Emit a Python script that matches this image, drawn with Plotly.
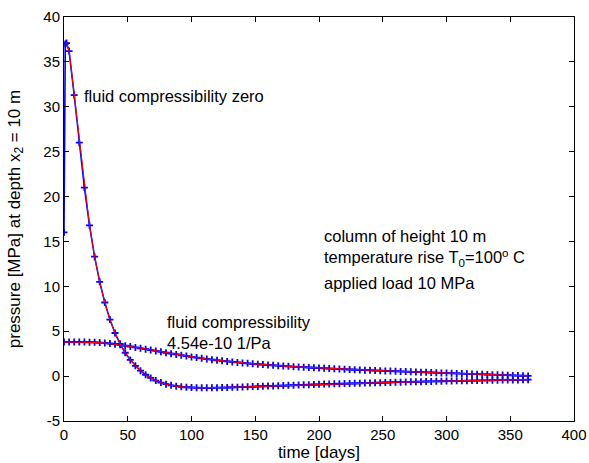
import plotly.graph_objects as go

# time [days] for both series
t_zero = [0, 1, 2, 4, 8, 12, 16, 20, 24, 28, 32, 36, 40, 44, 48, 52, 56, 60, 64, 68, 72, 76, 80,
          84, 88, 92, 96, 100, 104, 108, 112, 116, 120, 124, 128, 132, 136, 140, 144, 148, 152,
          156, 160, 164, 168, 172, 176, 180, 184, 188, 192, 196, 200, 204, 208, 212, 216, 220,
          224, 228, 232, 236, 240, 244, 248, 252, 256, 260, 264, 268, 272, 276, 280, 284, 288,
          292, 296, 300, 304, 308, 312, 316, 320, 324, 328, 332, 336, 340, 344, 348, 352, 356,
          360, 364]
p_zero = [16.0, 37.0, 37.1, 36.2, 31.3, 26.0, 21.0, 16.8, 13.3, 10.5, 8.2, 6.3, 4.8, 3.6, 2.6,
          1.8, 1.15, 0.6, 0.15, -0.2, -0.5, -0.72, -0.9, -1.03, -1.12, -1.19, -1.24, -1.27,
          -1.29, -1.30, -1.30, -1.30, -1.29, -1.28, -1.27, -1.25, -1.23, -1.21, -1.19, -1.17,
          -1.15, -1.13, -1.11, -1.09, -1.07, -1.05, -1.03, -1.01, -0.99, -0.97, -0.95, -0.93,
          -0.91, -0.89, -0.88, -0.86, -0.85, -0.83, -0.82, -0.80, -0.79, -0.77, -0.76, -0.74,
          -0.73, -0.71, -0.70, -0.68, -0.67, -0.66, -0.64, -0.63, -0.62, -0.60, -0.59, -0.58,
          -0.57, -0.55, -0.54, -0.53, -0.52, -0.51, -0.50, -0.49, -0.48, -0.47, -0.46, -0.45,
          -0.44, -0.43, -0.42, -0.42, -0.41, -0.40]

t_comp = [0, 4, 8, 12, 16, 20, 24, 28, 32, 36, 40, 44, 48, 52, 56, 60, 64, 68, 72, 76, 80, 84,
          88, 92, 96, 100, 104, 108, 112, 116, 120, 124, 128, 132, 136, 140, 144, 148, 152, 156,
          160, 164, 168, 172, 176, 180, 184, 188, 192, 196, 200, 204, 208, 212, 216, 220, 224,
          228, 232, 236, 240, 244, 248, 252, 256, 260, 264, 268, 272, 276, 280, 284, 288, 292,
          296, 300, 304, 308, 312, 316, 320, 324, 328, 332, 336, 340, 344, 348, 352, 356, 360,
          364]
p_comp = [3.8, 3.8, 3.8, 3.8, 3.79, 3.78, 3.76, 3.73, 3.69, 3.63, 3.56, 3.48, 3.39, 3.30, 3.20,
          3.10, 3.0, 2.90, 2.80, 2.70, 2.60, 2.50, 2.41, 2.32, 2.23, 2.14, 2.06, 1.98, 1.90, 1.83,
          1.76, 1.70, 1.64, 1.58, 1.52, 1.47, 1.42, 1.37, 1.32, 1.28, 1.24, 1.20, 1.16, 1.12,
          1.09, 1.05, 1.02, 0.99, 0.96, 0.93, 0.90, 0.87, 0.84, 0.81, 0.78, 0.76, 0.73, 0.71,
          0.68, 0.66, 0.64, 0.62, 0.60, 0.58, 0.56, 0.54, 0.52, 0.50, 0.48, 0.46, 0.44, 0.42,
          0.40, 0.38, 0.36, 0.34, 0.32, 0.30, 0.28, 0.26, 0.24, 0.22, 0.20, 0.18, 0.16, 0.14,
          0.12, 0.10, 0.08, 0.06, 0.04, 0.02]

x_ticks = [0, 50, 100, 150, 200, 250, 300, 350, 400]
y_ticks = [-5, 0, 5, 10, 15, 20, 25, 30, 35, 40]

FONT = "Liberation Sans, Arial, sans-serif"
BLUE = "#0000ff"
RED = "#ff0000"

fig = go.Figure()
for t, p in [(t_zero, p_zero), (t_comp, p_comp)]:
    fig.add_trace(go.Scatter(
        x=t, y=p, mode="lines+markers",
        line=dict(color=BLUE, width=1.6),
        marker=dict(symbol="cross-thin", size=5, line=dict(color=BLUE, width=1.8)),
        showlegend=False, hoverinfo="skip"))
for t, p in [(t_zero[1:], p_zero[1:]), (t_comp, p_comp)]:
    fig.add_trace(go.Scatter(
        x=t, y=p, mode="lines",
        line=dict(color=RED, width=1),
        showlegend=False, hoverinfo="skip"))

ann_font = dict(family=FONT, size=16.5, color="black")
annotations = [
    dict(x=14.5, y=31.2, text="fluid compressibility zero", xanchor="left", yanchor="middle"),
    dict(x=79.6, y=4.9, text="fluid compressibility<br>4.54e-10 1/Pa", xanchor="left",
         yanchor="middle", align="left"),
    dict(x=202.7, y=14.3,
         text="column of height 10 m<br>temperature rise T<sub>0</sub>=100<sup>o</sup> C",
         xanchor="left", yanchor="middle", align="left"),
    dict(x=202.7, y=10.4, text="applied load 10 MPa", xanchor="left", yanchor="middle"),
]
for a in annotations:
    a.update(xref="x", yref="y", showarrow=False, font=ann_font)

axis_common = dict(
    showline=True, linecolor="black", linewidth=1, mirror="allticks",
    ticks="inside", ticklen=5, tickcolor="black", tickwidth=1,
    showgrid=False, zeroline=False, automargin=False,
    tickfont=dict(family=FONT, size=15, color="black"),
)

fig.update_layout(
    width=589, height=463,
    paper_bgcolor="white", plot_bgcolor="white",
    margin=dict(l=64, r=15, t=17, b=42),
    annotations=annotations,
    xaxis=dict(range=[0, 400], tickvals=x_ticks, ticktext=[str(v) for v in x_ticks],
               title=dict(text="time [days]", font=dict(family=FONT, size=17, color="black"),
                          standoff=1),
               **axis_common),
    yaxis=dict(range=[-5, 40], tickvals=y_ticks, ticktext=[str(v) for v in y_ticks],
               title=dict(text="pressure [MPa] at depth x<sub>2</sub> = 10 m",
                          font=dict(family=FONT, size=17, color="black"), standoff=18),
               **axis_common),
)

fig.write_html("out.html", post_script="document.body.style.margin='0';",
               config={"displayModeBar": False})
